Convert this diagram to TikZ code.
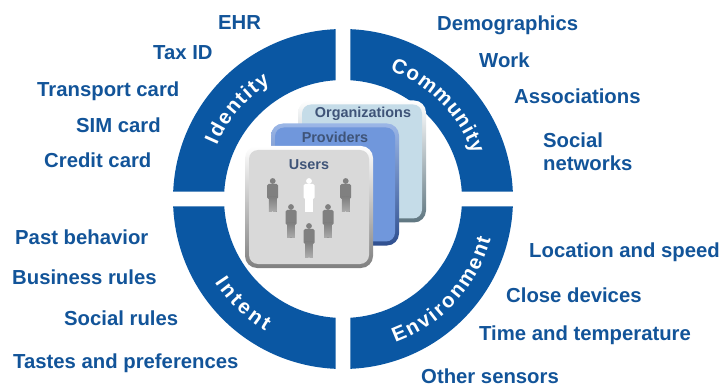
\documentclass[tikz,border=0pt]{standalone}
\usepackage{fontspec}
\setmainfont{Liberation Sans}
\usetikzlibrary{decorations.text}
\definecolor{ringblue}{HTML}{0A57A3}
\definecolor{labelblue}{HTML}{125499}
\definecolor{cardtext}{HTML}{3F5478}
\definecolor{orgface}{HTML}{C5DCE8}
\definecolor{provface}{HTML}{7097DC}
\definecolor{provedge}{HTML}{2F4F8F}
\definecolor{orgedge}{HTML}{5F7680}
\tikzset{
  pics/man/.style={code={
    \fill (0,-14) circle (2.9);
    \fill[rounded corners=1.5] (-5.5,-11) rectangle (5.5,4);
    \fill[top color=#1,bottom color=#1!65!white] (-3.8,2) rectangle (-0.4,17);
    \fill[top color=#1,bottom color=#1!65!white] (0.4,2) rectangle (3.8,17);
  }},
  pics/man/.default=gray
}
\begin{document}
\begin{tikzpicture}[x=1pt,y=-1pt,
  item/.style={anchor=west,text=labelblue,font=\fontsize{20.3}{23}\selectfont\bfseries,align=left,inner sep=0pt},
  cardlabel/.style={text=cardtext,font=\fontsize{14.4}{16}\selectfont\bfseries,inner sep=0pt},
  card/.style={rectangle,rounded corners=12pt,minimum width=128pt,minimum height=122pt,inner sep=0pt},
  face/.style={rectangle,rounded corners=9pt,minimum width=120pt,minimum height=114pt,inner sep=0pt}]
\useasboundingbox (0,0) rectangle (722,387);
\begin{scope}[shift={(343,199)},y=1pt]
\foreach \ang in {0,90,180,270}
  \fill[ringblue,rotate=\ang] (2.46:170) arc (2.46:87.54:170) -- (86.48:119) arc (86.48:3.52:119) -- cycle;
\path[decorate,decoration={text along path,text align={fit to path},text={|\color{white}\fontsize{20.5}{23}\selectfont\bfseries|Identity}}] (157:137) arc (157:122:137);
\path[decorate,decoration={text along path,text align={fit to path},text={|\color{white}\fontsize{20.5}{23}\selectfont\bfseries|Community}}] (70:137) arc (70:19:137);
\path[decorate,decoration={text along path,text align={fit to path},text={|\color{white}\fontsize{20.5}{23}\selectfont\bfseries|Intent}}] (213:153) arc (213:239.5:153);
\path[decorate,decoration={text along path,text align={fit to path},text={|\color{white}\fontsize{20.5}{23}\selectfont\bfseries|Environment}}] (-70:153) arc (-70:-15:153);
\end{scope}

\node[card,top color=white,bottom color=orgedge] (orgs) at (362,161.5) {};
\node[face,fill=orgface] at (orgs) {};
\node[card,top color=provface!70!white,bottom color=provedge] (provs) at (335,184.5) {};
\node[face,fill=provface] at (provs) {};
\node[card,top color=white,bottom color=black!50] (users) at (309,207) {};
\node[face,fill=black!15] at (users) {};

\node[cardlabel] (orgslabel) at (363,114) {Organizations};
\node[cardlabel] (provslabel) at (335,137) {Providers};
\node[cardlabel] (userslabel) at (309,165) {Users};

\foreach \px/\py in {272.7/195,345.7/195,291/221,328/221,309/240}
  \pic[fill=gray] at (\px,\py) {man};
\pic[fill=white] at (309,195) {man=white};

\node[item] (ehr) at (218,23) {EHR};
\node[item] (taxid) at (153,53) {Tax ID};
\node[item] (transport) at (37,91) {Transport card};
\node[item] (sim) at (76,125) {SIM card};
\node[item] (credit) at (44,160) {Credit card};
\node[item] (past) at (15,237) {Past behavior};
\node[item] (business) at (12,277) {Business rules};
\node[item] (socialrules) at (64,318) {Social rules};
\node[item] (tastes) at (13,363) {Tastes and preferences};
\node[item] (demo) at (437,25) {Demographics};
\node[item] (work) at (479,60) {Work};
\node[item] (assoc) at (514,96) {Associations};
\node[item] (socialnet) at (543,152) {Social\\networks};
\node[item] (location) at (529,252) {Location and speed};
\node[item] (close) at (506,295) {Close devices};
\node[item] (time) at (479,335) {Time and temperature};
\node[item] (other) at (421,376) {Other sensors};
\end{tikzpicture}
\end{document}
